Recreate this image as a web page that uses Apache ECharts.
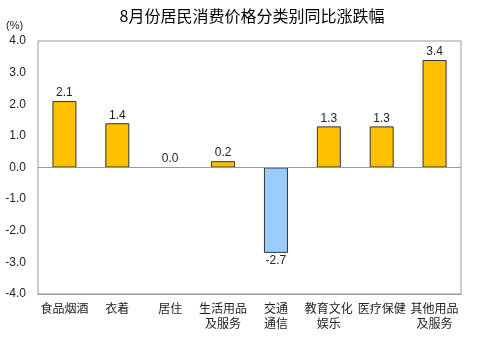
<!DOCTYPE html>
<html><head><meta charset="utf-8">
<script src="https://cdn.jsdelivr.net/npm/echarts@6/dist/echarts.min.js"></script>
<style>html,body{margin:0;padding:0;background:#fff}#c{width:504px;height:341px}</style>
</head><body><div id="c"></div>
<script>
const categories = ['食品烟酒','衣着','居住','生活用品\n及服务','交通\n通信','教育文化\n娱乐','医疗保健','其他用品\n及服务'];
const values = [2.1, 1.4, 0.0, 0.2, -2.7, 1.3, 1.3, 3.4];
const title = '8月份居民消费价格分类别同比涨跌幅';
const unit = '(%)';
const font = '"Noto Sans CJK SC", sans-serif';
const numFont = '"Liberation Sans", Arial, sans-serif';
const chart = echarts.init(document.getElementById('c'));
chart.setOption({
  animation: false,
  title: {text: title, left: 247, textAlign: 'center', top: 3,
    textStyle: {fontFamily: font, fontSize: 16, fontWeight: 'normal', color: '#000'}},
  graphic: [{type: 'text', left: 6, top: 20, style: {text: unit, font: '11px ' + numFont, fill: '#222'}}],
  grid: {left: 38, right: 43, top: 41, bottom: 47, show: true, borderColor: '#999', borderWidth: 1,
    containLabel: false, outerBoundsMode: 'none'},
  xAxis: {type: 'category', data: categories,
    axisLine: {show: true, onZero: false, lineStyle: {color: '#999'}},
    axisTick: {show: false},
    axisLabel: {interval: 0, color: '#222', fontFamily: font, fontSize: 12, lineHeight: 15, margin: 7}},
  yAxis: {type: 'value', min: -4, max: 4, interval: 1,
    axisLine: {show: false}, axisTick: {show: false}, splitLine: {show: false},
    axisLabel: {formatter: v => v.toFixed(1), color: '#222', fontFamily: numFont, fontSize: 12, margin: 12}},
  series: [{type: 'bar', barWidth: 24,
    data: values.map(v => ({value: v,
      itemStyle: {color: v < 0 ? '#99CCFF' : '#FFC000'},
      label: {position: v < 0 ? 'bottom' : 'top'}})),
    itemStyle: {borderColor: '#333', borderWidth: 1},
    label: {show: true, formatter: p => p.value.toFixed(1), color: '#222',
      fontFamily: numFont, fontSize: 12, distance: 2},
    markLine: {silent: true, symbol: 'none', label: {show: false},
      lineStyle: {color: '#999', type: 'solid', width: 1},
      data: [{yAxis: 0}]}
  }]
});
</script></body></html>
